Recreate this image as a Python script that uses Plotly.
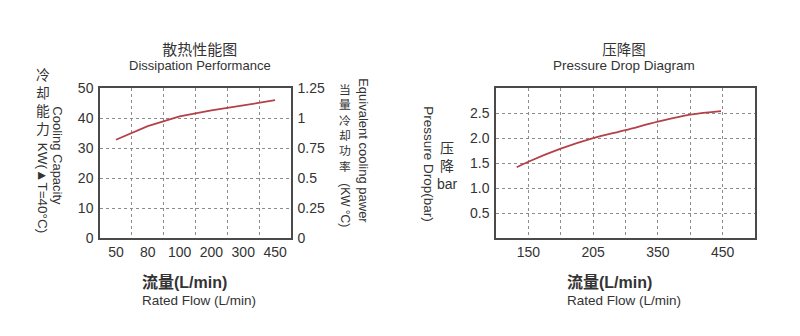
import plotly.graph_objects as go

W, H = 800, 336

# Dissipation performance: cooling capacity (kW, dT = 40 C) per rated flow
flow_labels = ["50", "80", "100", "200", "300", "450"]
cooling_kw = [32.8, 37.3, 40.6, 42.6, 44.2, 46.0]

# Pressure drop curve: positions on the flow axis and drop in bar
flow_ticks = ["150", "", "205", "", "350", "", "450"]
drop_pos = [0.64, 1, 2, 3, 4, 5, 6, 6.95]
drop_bar = [1.42, 1.53, 1.79, 2.0, 2.16, 2.33, 2.47, 2.54]

LINE = "#b5404a"
FRAME = "#4a4a4a"
GRID = "#8c8c8c"
TXT = "#333333"
SANS = "Liberation Sans, Arial, sans-serif"
MIX = "Liberation Sans, Noto Sans CJK SC, sans-serif"


def px(x):
    return x / W


def py(y):
    return 1 - y / H


fig = go.Figure()
fig.add_trace(go.Scatter(x=flow_labels, y=cooling_kw, mode="lines",
                         line=dict(color=LINE, width=1.8),
                         xaxis="x", yaxis="y", showlegend=False, hoverinfo="skip"))
# empty trace so the right-hand (kW/°C) axis is drawn
fig.add_trace(go.Scatter(x=[], y=[], mode="lines", xaxis="x", yaxis="y2",
                         showlegend=False, hoverinfo="skip"))
fig.add_trace(go.Scatter(x=drop_pos, y=drop_bar, mode="lines",
                         line=dict(color=LINE, width=1.8, shape="spline"),
                         xaxis="x2", yaxis="y3", showlegend=False, hoverinfo="skip"))

ydom = [py(242), py(84)]
tickfont = dict(family=SANS, size=14, color=TXT)
frame = dict(showline=True, linecolor=FRAME, linewidth=1.5, mirror=True,
             zeroline=False, ticks="", tickfont=tickfont)
grid = dict(showgrid=True, gridcolor=GRID, gridwidth=1, griddash="dot")

fig.update_layout(
    width=W, height=H,
    margin=dict(l=0, r=0, t=0, b=0),
    paper_bgcolor="white", plot_bgcolor="white",
    xaxis=dict(domain=[px(100), px(291)], anchor="y", type="category",
               categoryorder="array", categoryarray=flow_labels,
               tickson="boundaries", range=[-0.5, 5.5], **grid, **frame),
    yaxis=dict(domain=ydom, anchor="x", range=[0, 50], tickvals=[0, 10, 20, 30, 40, 50],
               ticklabelstandoff=2, **grid, **frame),
    yaxis2=dict(overlaying="y", anchor="x", side="right", range=[0, 1.25],
                tickvals=[0, 0.25, 0.5, 0.75, 1, 1.25],
                ticktext=["0", "0.25", "0.5", "0.75", "1", "1.25"],
                showgrid=False, showline=True, linecolor=FRAME, linewidth=1.5,
                zeroline=False, ticks="", tickfont=tickfont, ticklabelstandoff=2),
    xaxis2=dict(domain=[px(496), px(755)], anchor="y3", range=[0, 8],
                tickvals=[1, 2, 3, 4, 5, 6, 7], ticktext=flow_ticks, **grid, **frame),
    yaxis3=dict(domain=ydom, anchor="x2", range=[0, 3],
                tickvals=[0.5, 1, 1.5, 2, 2.5],
                ticktext=["0.5", "1.0", "1.5", "2.0", "2.5"],
                ticklabelstandoff=2, **grid, **frame),
)

ann = []


def text(x, y, s, size, family=MIX, angle=0, xanchor="center", align="center"):
    ann.append(dict(x=px(x), y=py(y), xref="paper", yref="paper", text=s,
                    showarrow=False, textangle=angle, xanchor=xanchor, align=align,
                    yanchor="middle", borderpad=0,
                    font=dict(family=family, size=size, color=TXT)))


def span(s, size, bold=False):
    s = f"<span style='font-size:{size}px'>{s}</span>"
    return f"<b>{s}</b>" if bold else s


def column(chars):
    return "<br>".join(chars)


# Dissipation performance titles
text(200, 51.5, span("散热性能图", 15) + "<br>" + span("Dissipation Performance", 13), 11.5)
text(42.7, 99, column("冷却能力"), 13.8)
text(42.7, 188.5, "KW(▲T=40°C)", 13.5, angle=90)
text(57.3, 155, "Cooling Capacity", 13, angle=90)
text(345, 126, column("当量冷却功率"), 11.8)
text(345, 207, "(KW °C)", 12, angle=90)
text(362.7, 150, "Equivalent cooling pawer", 13, angle=90)
text(141, 297, span("流量(L/min)", 16, bold=True) + "<br>" + span("Rated Flow (L/min)", 13.5),
     13, xanchor="left", align="left")

# Pressure drop titles
text(624, 51.5, span("压降图", 14.5) + "<br>" + span("Pressure Drop Diagram", 13.5), 11.5)
text(429, 164, "Pressure Drop(bar)", 13.5, angle=90)
text(447.7, 166, column(["压", "降", "bar"]), 14)
text(565.7, 297, span("流量(L/min)", 16, bold=True) + "<br>" + span("Rated Flow (L/min)", 13.5),
     13, xanchor="left", align="left")

fig.update_layout(annotations=ann)
fig.write_html("out.html")
